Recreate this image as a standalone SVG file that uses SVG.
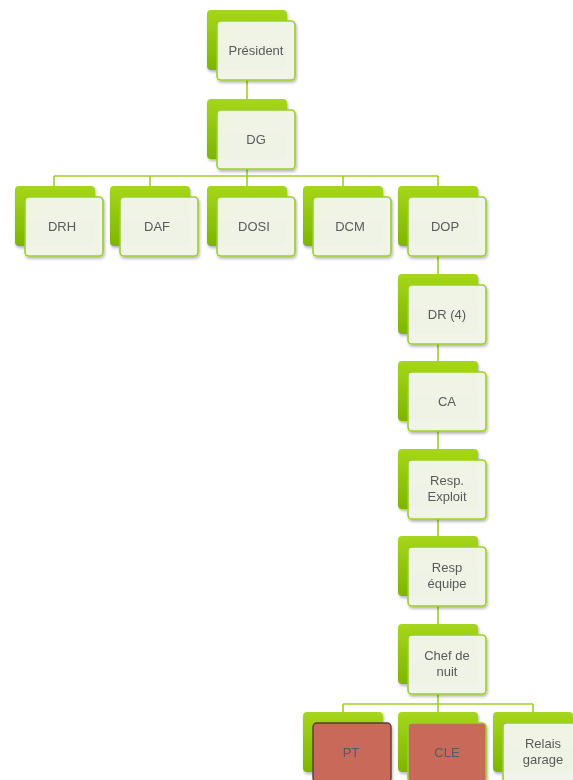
<svg xmlns="http://www.w3.org/2000/svg" width="573" height="780" viewBox="0 0 573 780">
<defs>
<linearGradient id="g" x1="0" y1="0" x2="0" y2="1">
<stop offset="0" stop-color="#a6d61c"/>
<stop offset="1" stop-color="#7db600"/>
</linearGradient>
<filter id="sh" x="-20%" y="-20%" width="140%" height="140%">
<feGaussianBlur in="SourceAlpha" stdDeviation="1.5"/>
<feOffset dx="1" dy="2"/>
<feComponentTransfer><feFuncA type="linear" slope="0.3"/></feComponentTransfer>
<feMerge><feMergeNode/><feMergeNode in="SourceGraphic"/></feMerge>
</filter>
</defs>
<style>
.back{fill:url(#g);}
.front{fill:#f3f5ec;fill-opacity:0.97;stroke:#9ccf2a;stroke-width:1.6;}
.red{fill:#c9695a;stroke:#9ccf2a;stroke-width:1.6;}
.red2{fill:#c9695a;stroke:#5b3b34;stroke-width:1.4;}
.lbl{font-family:"Liberation Sans",Arial,sans-serif;font-size:13px;fill:#5a5a5a;text-anchor:middle;}
.conn{stroke:#9ccf2a;stroke-width:1.6;fill:none;}
</style>
<rect width="573" height="780" fill="#ffffff"/>
<g id="connectors" class="conn">
<path d="M247 80V99"/>
<path d="M247 169V176M54 176H438M54 176V186M150 176V186M247 176V186M343 176V186M438 176V186"/>
<path d="M438 256V274"/>
<path d="M438 344V361"/>
<path d="M438 431V449"/>
<path d="M438 519V536"/>
<path d="M438 606V624"/>
<path d="M438 694V704M343 704H533M343 704V712M438 704V712M533 704V712"/>
</g>
<g id="president" filter="url(#sh)"><rect class="back" x="207" y="10" width="80" height="60" rx="4"/><rect class="front" x="217" y="21" width="78" height="59" rx="4"/><text class="lbl" x="256" y="55">Président</text></g>
<g id="dg" filter="url(#sh)"><rect class="back" x="207" y="99" width="80" height="60" rx="4"/><rect class="front" x="217" y="110" width="78" height="59" rx="4"/><text class="lbl" x="256" y="144">DG</text></g>
<g id="drh" filter="url(#sh)"><rect class="back" x="15" y="186" width="80" height="60" rx="4"/><rect class="front" x="25" y="197" width="78" height="59" rx="4"/><text class="lbl" x="62" y="231">DRH</text></g>
<g id="daf" filter="url(#sh)"><rect class="back" x="110" y="186" width="80" height="60" rx="4"/><rect class="front" x="120" y="197" width="78" height="59" rx="4"/><text class="lbl" x="157" y="231">DAF</text></g>
<g id="dosi" filter="url(#sh)"><rect class="back" x="207" y="186" width="80" height="60" rx="4"/><rect class="front" x="217" y="197" width="78" height="59" rx="4"/><text class="lbl" x="254" y="231">DOSI</text></g>
<g id="dcm" filter="url(#sh)"><rect class="back" x="303" y="186" width="80" height="60" rx="4"/><rect class="front" x="313" y="197" width="78" height="59" rx="4"/><text class="lbl" x="350" y="231">DCM</text></g>
<g id="dop" filter="url(#sh)"><rect class="back" x="398" y="186" width="80" height="60" rx="4"/><rect class="front" x="408" y="197" width="78" height="59" rx="4"/><text class="lbl" x="445" y="231">DOP</text></g>
<g id="dr" filter="url(#sh)"><rect class="back" x="398" y="274" width="80" height="60" rx="4"/><rect class="front" x="408" y="285" width="78" height="59" rx="4"/><text class="lbl" x="447" y="319">DR (4)</text></g>
<g id="ca" filter="url(#sh)"><rect class="back" x="398" y="361" width="80" height="60" rx="4"/><rect class="front" x="408" y="372" width="78" height="59" rx="4"/><text class="lbl" x="447" y="406">CA</text></g>
<g id="resp-exploit" filter="url(#sh)"><rect class="back" x="398" y="449" width="80" height="60" rx="4"/><rect class="front" x="408" y="460" width="78" height="59" rx="4"/><text class="lbl" x="447" y="485">Resp.</text><text class="lbl" x="447" y="501">Exploit</text></g>
<g id="resp-equipe" filter="url(#sh)"><rect class="back" x="398" y="536" width="80" height="60" rx="4"/><rect class="front" x="408" y="547" width="78" height="59" rx="4"/><text class="lbl" x="447" y="572">Resp</text><text class="lbl" x="447" y="588">équipe</text></g>
<g id="chef-de-nuit" filter="url(#sh)"><rect class="back" x="398" y="624" width="80" height="60" rx="4"/><rect class="front" x="408" y="635" width="78" height="59" rx="4"/><text class="lbl" x="447" y="660">Chef de</text><text class="lbl" x="447" y="676">nuit</text></g>
<g id="pt" filter="url(#sh)"><rect class="back" x="303" y="712" width="80" height="60" rx="4"/><rect class="red2" x="313" y="723" width="78" height="59" rx="4"/><text class="lbl" x="351" y="757">PT</text></g>
<g id="cle" filter="url(#sh)"><rect class="back" x="398" y="712" width="80" height="60" rx="4"/><rect class="red" x="408" y="723" width="78" height="59" rx="4"/><text class="lbl" x="447" y="757">CLE</text></g>
<g id="relais-garage" filter="url(#sh)"><rect class="back" x="493" y="712" width="80" height="60" rx="4"/><rect class="front" x="503" y="723" width="78" height="59" rx="4"/><text class="lbl" x="543" y="748">Relais</text><text class="lbl" x="543" y="764">garage</text></g>
</svg>
